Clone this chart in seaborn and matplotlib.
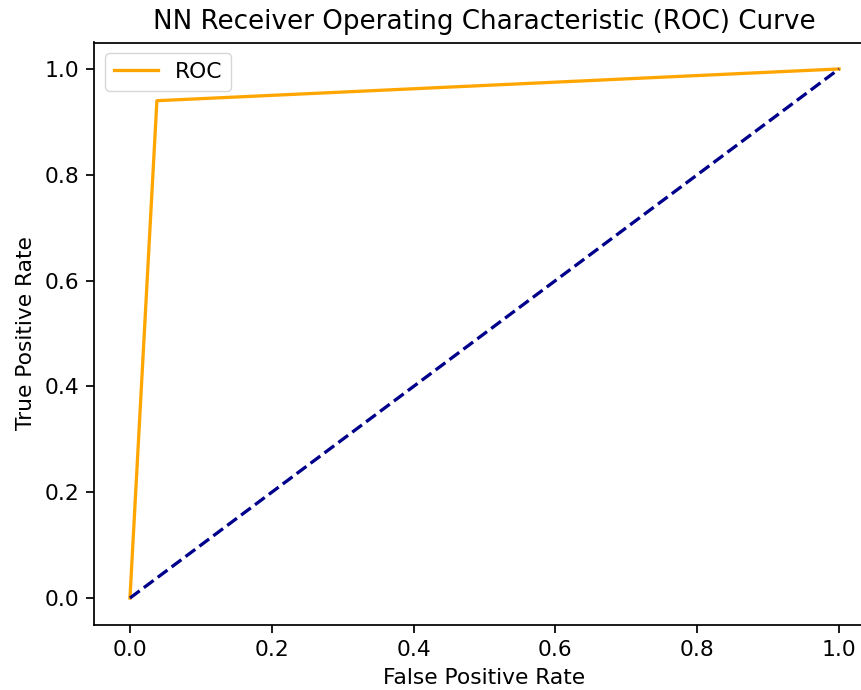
import matplotlib
matplotlib.use("Agg")
import matplotlib.pyplot as plt
import seaborn as sns
import pandas as pd

fpr = [0.0, 0.038, 1.0]
tpr = [0.0, 0.94, 1.0]
diag = [0.0, 1.0]

S = 1.57
plt.rcParams['font.family'] = ['DejaVu Sans']
plt.rcParams['font.size'] = 10 * S
plt.rcParams['axes.linewidth'] = 0.8 * S

fig = plt.figure(figsize=(8.62, 6.9), dpi=100)
ax = fig.add_axes([94.5 / 862, 65.5 / 690, 780 / 862, 582 / 690])

df = pd.DataFrame({"fpr": fpr, "tpr": tpr})
sns.lineplot(data=df, x="fpr", y="tpr", color="orange", label="ROC", ax=ax,
             linewidth=1.5 * S, sort=False)
sns.lineplot(x=diag, y=diag, color="darkblue", linestyle="--", ax=ax,
             linewidth=1.5 * S)

ax.set_xlim(-0.05, 1.05)
ax.set_ylim(-0.05, 1.05)
fs = 10 * S
ax.set_xlabel("False Positive Rate", fontsize=fs, labelpad=4 * S)
ax.set_ylabel("True Positive Rate", fontsize=fs, labelpad=4 * S)
ax.set_title("NN Receiver Operating Characteristic (ROC) Curve", fontsize=12 * S, pad=6 * S)
ax.tick_params(labelsize=fs, length=3.5 * S, width=0.8 * S, pad=3.5 * S)
ax.set_xticks([0.0, 0.2, 0.4, 0.6, 0.8, 1.0])
ax.set_yticks([0.0, 0.2, 0.4, 0.6, 0.8, 1.0])
ax.legend(loc="upper left", fontsize=fs)
fig.savefig("out.png", dpi=100)
